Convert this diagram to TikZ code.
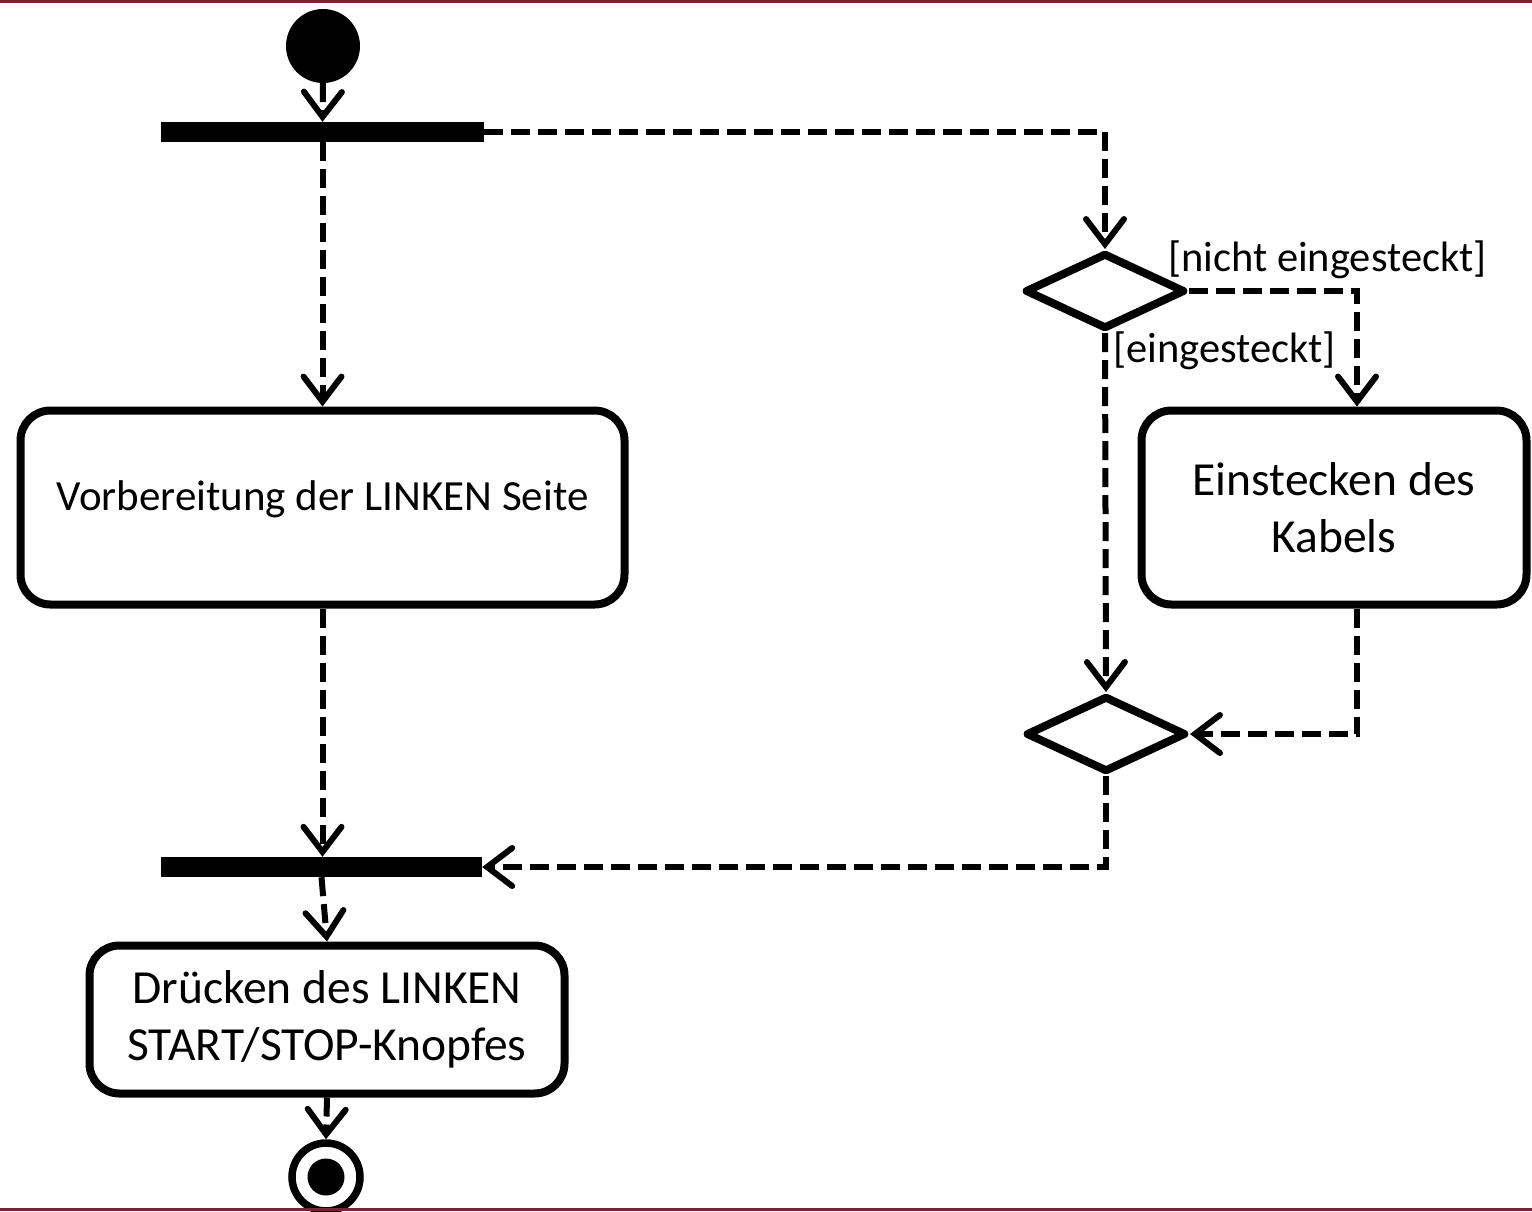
\documentclass[tikz,border=0pt]{standalone}
\usepackage{fontspec}
\setmainfont{Carlito}
\usetikzlibrary{arrows.meta,shapes.geometric,calc}
\definecolor{edgered}{RGB}{122,34,52}
\begin{document}
\begin{tikzpicture}[x=1pt,y=-1pt,
  flow/.style={line width=6pt, dash pattern=on 19pt off 8pt,
    -{Straight Barb[length=25pt,width=38pt,line cap=round]}},
  actbox/.style={draw, line width=8pt, rounded corners=30pt, align=center, inner sep=0pt},
  bar/.style={fill=black, inner sep=0pt, minimum width=323pt, minimum height=20pt},
  decision/.style={draw, diamond, line width=8pt, line join=round, inner sep=0pt,
    minimum width=160pt, minimum height=76pt},
  lbl/.style={inner sep=0pt, font=\fontsize{42.5}{50}\selectfont},
]
\useasboundingbox (0,0) rectangle (1532,1211);
\fill[white] (0,0) rectangle (1532,1211);

% nodes
\node[circle, fill=black, minimum size=74pt, inner sep=0pt] (start) at (323,46) {};
\node[bar] (fork) at (322.5,132) {};
\node[bar, minimum width=321pt] (join) at (321.5,867) {};
\node[actbox, minimum width=604pt, minimum height=194pt,
      font=\fontsize{43}{50}\selectfont, text height=27pt, text depth=21pt]
      (prep) at (322.5,507.5) {Vorbereitung der LINKEN Seite};
\node[actbox, minimum width=385pt, minimum height=194pt,
      font=\fontsize{47.5}{57}\selectfont] (plug) at (1334,507.5) {Einstecken des\\Kabels};
\node[actbox, minimum width=475pt, minimum height=148pt,
      font=\fontsize{47.5}{57}\selectfont] (press) at (327,1019.5) {Drücken des LINKEN\\START/STOP-Knopfes};
\node[decision] (dec) at (1105,291) {};
\node[decision] (merge) at (1106,734) {};
\node[circle, draw, line width=7.5pt, minimum size=68pt, inner sep=0pt] (final) at (326,1177) {};
\fill (final.center) circle (18.5pt);

\node[lbl, anchor=base west] (lno) at (1168,271) {[nicht eingesteckt]};
\node[lbl, anchor=base west] (lyes) at (1113,362) {[eingesteckt]};

\coordinate (r2x) at (1357,0);

% connectors
\draw[flow] (start.south) -- (fork.north);
\draw[flow] (fork.south) -- (prep.north);
\draw[flow] (fork.east) -| (dec.north);
\draw[flow] (dec.east) -| (r2x |- plug.north);
\draw[flow] (dec.south) -- (merge.north);
\draw[flow] (r2x |- plug.south) |- (merge.east);
\draw[flow] (prep.south) -- (prep.south |- join.north);
\draw[flow] (merge.south) |- (join.east);
\draw[flow] (join.south) -- (press.north);
\draw[flow] (press.south) -- (final.north);

% frame lines
\fill[edgered] (0,0) rectangle (1532,3);
\fill[edgered] (0,1208) rectangle (1532,1211);
\end{tikzpicture}
\end{document}
